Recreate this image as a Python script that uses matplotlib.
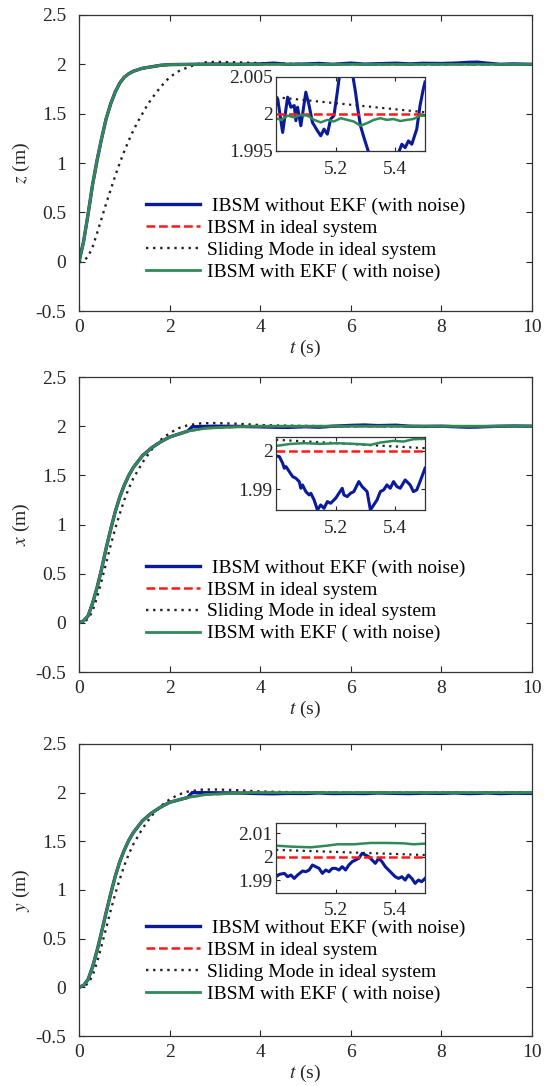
import matplotlib
matplotlib.use("Agg")
import matplotlib.pyplot as plt

plt.rcParams['font.family'] = ['Liberation Serif', 'DejaVu Serif']
plt.rcParams['mathtext.fontset'] = 'stix'

# ---------------- data ----------------
labels = [" IBSM without EKF (with noise)", "IBSM in ideal system",
          "Sliding Mode in ideal system", "IBSM with EKF ( with noise)"]
ylabels = ["$z$ (m)", "$x$ (m)", "$y$ (m)"]

# ideal IBSM responses
t_ib = [0, 0.1, 0.2, 0.3, 0.4, 0.5, 0.6, 0.7, 0.8, 0.9, 1.0, 1.1, 1.2, 1.4, 1.6, 1.8, 2.0, 2.5, 3.0, 4.0, 10.0]
z_ib = [0, 0.20, 0.48, 0.78, 1.03, 1.25, 1.45, 1.60, 1.72, 1.81, 1.87, 1.905, 1.93, 1.96, 1.975, 1.99, 1.997, 2.0, 2.0, 2.0, 2.0]
t_ibx = [0, 0.1, 0.2, 0.3, 0.4, 0.5, 0.6, 0.7, 0.8, 0.9, 1.0, 1.1, 1.2, 1.4, 1.6, 1.8, 2.0, 2.4, 2.8, 3.3, 3.8, 10.0]
x_ib = [0, 0.02, 0.07, 0.20, 0.36, 0.55, 0.76, 0.95, 1.13, 1.28, 1.40, 1.50, 1.58, 1.70, 1.78, 1.84, 1.89, 1.95, 1.98, 1.99, 2.0, 2.0]
y_ib = [0, 0.02, 0.08, 0.21, 0.38, 0.57, 0.77, 0.96, 1.14, 1.29, 1.41, 1.51, 1.59, 1.71, 1.79, 1.85, 1.90, 1.95, 1.98, 1.99, 2.0, 2.0]

# sliding mode responses
t_sm = [0, 0.1, 0.2, 0.3, 0.4, 0.5, 0.6, 0.7, 0.8, 0.9, 1.0, 1.1, 1.2, 1.3, 1.4, 1.5, 1.6, 1.8, 2.0, 2.2, 2.4, 2.6, 2.8, 3.0, 3.5, 4.0, 4.5, 5.0, 5.5, 6.0, 10.0]
z_sm = [0, 0.01, 0.05, 0.15, 0.29, 0.44, 0.59, 0.73, 0.87, 1.00, 1.12, 1.23, 1.33, 1.42, 1.50, 1.58, 1.65, 1.77, 1.87, 1.93, 1.97, 2.00, 2.02, 2.025, 2.02, 2.012, 2.006, 2.0023, 2.0003, 2.0, 2.0]
t_smx = [0, 0.1, 0.2, 0.3, 0.4, 0.5, 0.6, 0.7, 0.8, 0.9, 1.0, 1.1, 1.2, 1.4, 1.6, 1.8, 2.0, 2.2, 2.4, 2.7, 3.0, 3.5, 4.0, 4.5, 5.0, 5.5, 6.0, 10.0]
x_sm = [0, 0.01, 0.04, 0.12, 0.26, 0.43, 0.61, 0.79, 0.96, 1.11, 1.25, 1.37, 1.47, 1.63, 1.76, 1.86, 1.93, 1.98, 2.01, 2.03, 2.032, 2.025, 2.012, 2.006, 2.0029, 2.0007, 2.0, 2.0]
y_sm = [0, 0.01, 0.04, 0.12, 0.26, 0.43, 0.61, 0.79, 0.96, 1.11, 1.25, 1.37, 1.47, 1.63, 1.76, 1.86, 1.93, 1.98, 2.01, 2.03, 2.032, 2.025, 2.012, 2.006, 2.0029, 2.0007, 2.0, 2.0]

# small noise of the blue curve in the main panels (t >= 2.5)
t_nz = [2.5, 3.0, 3.5, 4.0, 4.3, 4.6, 5.0, 5.3, 5.6, 6.0, 6.3, 6.6, 7.0, 7.3, 7.6, 8.0, 8.3, 8.6, 8.8, 9.0, 9.3, 9.6, 10.0]
z_nz = [2.0, 2.003, 2.0, 2.004, 2.012, 2.0, 2.003, 2.009, 2.0, 2.012, 2.002, 2.006, 2.011, 2.004, 2.010, 2.008, 2.012, 2.02, 2.022, 2.012, 2.0, 2.004, 2.0]
x_nz = [1.995, 2.0, 1.998, 1.994, 1.99, 1.988, 1.995, 1.99, 2.0, 2.008, 2.012, 2.006, 2.01, 2.0, 1.998, 2.0, 1.995, 1.99, 1.992, 1.996, 2.0, 2.002, 2.0]
y_nz = [2.0, 1.998, 1.996, 1.99, 1.988, 1.992, 1.991, 1.996, 1.99, 1.992, 1.99, 1.996, 1.992, 1.99, 1.994, 1.992, 1.996, 1.99, 1.992, 1.996, 1.99, 1.994, 1.992]

# inset data, z
ti_zb = [5.0, 5.0056, 5.0222, 5.0389, 5.05, 5.0611, 5.0667, 5.0722, 5.0833, 5.1, 5.1111, 5.1222, 5.1389, 5.15, 5.1611, 5.1722, 5.1833, 5.1944, 5.2056, 5.2144, 5.2367, 5.2556, 5.2667, 5.2744, 5.2833, 5.2967, 5.3111, 5.35, 5.3833, 5.4111, 5.4222, 5.4333, 5.4444, 5.4556, 5.4722, 5.4833, 5.4944, 5.5]
zi_b = [2.00136, 2.00205, 1.9975, 2.00227, 2.00091, 2.00114, 1.99909, 2.00091, 1.99841, 2.00295, 2.00114, 1.99886, 1.99773, 1.99705, 1.99795, 1.99727, 1.99932, 1.99977, 2.00295, 2.00568, 2.0084, 2.00568, 2.00295, 2.00068, 1.99841, 1.99659, 1.99477, 1.9907, 1.9911, 1.99477, 1.99591, 1.99545, 1.99636, 1.99591, 1.99795, 2.00114, 2.00341, 2.00432]
ti_zg = [5.0, 5.017, 5.039, 5.061, 5.083, 5.106, 5.128, 5.15, 5.172, 5.194, 5.217, 5.239, 5.261, 5.283, 5.306, 5.328, 5.35, 5.372, 5.394, 5.417, 5.439, 5.461, 5.483, 5.5]
zi_g = [1.99943, 1.9992, 1.99977, 1.99955, 1.99986, 1.99977, 1.9992, 1.99886, 1.9992, 1.99898, 1.99943, 1.9992, 1.99898, 1.99841, 1.99877, 1.9992, 1.99943, 1.9992, 1.99932, 1.99905, 1.9992, 1.99932, 1.99977, 1.99977]
zi_sm = [2.00227, 2.00023]

# inset data, x
ti_xb = [5.0, 5.0111, 5.0222, 5.0278, 5.0333, 5.0444, 5.0556, 5.0667, 5.0778, 5.0833, 5.0889, 5.1, 5.1111, 5.1167, 5.1278, 5.1389, 5.15, 5.1611, 5.1722, 5.1833, 5.2, 5.2111, 5.2222, 5.2278, 5.2389, 5.25, 5.2611, 5.2778, 5.2889, 5.3056, 5.3167, 5.3278, 5.3389, 5.35, 5.3611, 5.3722, 5.3833, 5.3944, 5.4056, 5.4167, 5.4333, 5.4444, 5.45, 5.4611, 5.4722, 5.4833, 5.5]
xi_b = [1.9987, 1.99852, 1.99678, 1.99548, 1.99591, 1.99461, 1.99330, 1.99287, 1.99200, 1.99026, 1.99113, 1.98939, 1.98852, 1.98896, 1.98722, 1.98461, 1.98591, 1.98504, 1.98678, 1.98635, 1.98765, 1.98896, 1.99026, 1.98852, 1.98809, 1.98896, 1.98939, 1.992, 1.99070, 1.98939, 1.98461, 1.98591, 1.98722, 1.98939, 1.98983, 1.99113, 1.99026, 1.99200, 1.99070, 1.99026, 1.99243, 1.99157, 1.99113, 1.98939, 1.98983, 1.99200, 1.99548]
ti_xg = [5.0, 5.05, 5.094, 5.15, 5.206, 5.261, 5.317, 5.35, 5.394, 5.428, 5.461, 5.5]
xi_g = [2.00130, 2.00183, 2.00200, 2.00183, 2.00200, 2.00183, 2.00157, 2.00217, 2.00261, 2.00243, 2.00304, 2.00313]
xi_sm = [2.0029, 2.0007]

# inset data, y
ti_yb = [5.0, 5.0111, 5.0278, 5.0389, 5.05, 5.0611, 5.0722, 5.0889, 5.1, 5.1111, 5.1222, 5.1333, 5.1444, 5.1556, 5.1667, 5.1778, 5.1889, 5.2, 5.2111, 5.2222, 5.2333, 5.2444, 5.2556, 5.2667, 5.2778, 5.2889, 5.3, 5.3111, 5.3222, 5.3333, 5.3444, 5.3556, 5.3667, 5.3778, 5.3889, 5.4, 5.4111, 5.4222, 5.4333, 5.4444, 5.4556, 5.4667, 5.4778, 5.4889, 5.5]
yi_b = [1.99143, 1.99243, 1.99286, 1.99143, 1.99214, 1.99071, 1.99214, 1.99386, 1.99357, 1.99429, 1.99643, 1.99571, 1.995, 1.99286, 1.99429, 1.99357, 1.995, 1.995, 1.99429, 1.99571, 1.99429, 1.99643, 1.99786, 1.99857, 1.99929, 2.00143, 2.00071, 2.0, 1.99857, 1.99714, 1.99929, 1.99786, 1.99571, 1.99429, 1.99286, 1.99143, 1.99071, 1.99143, 1.99, 1.99214, 1.99071, 1.98857, 1.99, 1.98929, 1.99071]
ti_yg = [5.0, 5.05, 5.117, 5.172, 5.206, 5.261, 5.317, 5.372, 5.428, 5.461, 5.5]
yi_g = [2.0047, 2.00429, 2.004, 2.00471, 2.00529, 2.00529, 2.00586, 2.00586, 2.00571, 2.00529, 2.00557]
yi_sm = [2.0029, 2.0007]

# ---------------- styling ----------------
C_BLUE = '#0a1a9c'
C_RED = '#ff1a1a'
C_GREEN = '#2e8b57'
C_TXT = '#262626'

fig = plt.figure(figsize=(5.44, 10.86), dpi=100)

main_rects = [[0.1452, 0.7136, 0.8327, 0.2726],
              [0.1452, 0.3812, 0.8327, 0.2716],
              [0.1452, 0.0460, 0.8327, 0.2690]]
inset_rects = [[0.5074, 0.8610, 0.2739, 0.0681],
               [0.5074, 0.5304, 0.2739, 0.0675],
               [0.5074, 0.1780, 0.2739, 0.0642]]
legend_anchor_y = [0.383, 0.383, 0.400]
inset_ylims = [(1.995, 2.005), (1.9846, 2.0037), (1.9846, 2.0144)]
inset_yticks = [[1.995, 2.0, 2.005], [1.99, 2.0], [1.99, 2.0, 2.01]]
inset_yticklabels = [["1.995", "2", "2.005"], ["1.99", "2"], ["1.99", "2", "2.01"]]

ib_t = [t_ib, t_ibx, t_ibx]
ib_v = [z_ib, x_ib, y_ib]
sm_t = [t_sm, t_smx, t_smx]
sm_v = [z_sm, x_sm, y_sm]
nz_v = [z_nz, x_nz, y_nz]
in_b = [(ti_zb, zi_b), (ti_xb, xi_b), (ti_yb, yi_b)]
in_g = [(ti_zg, zi_g), (ti_xg, xi_g), (ti_yg, yi_g)]
in_sm = [zi_sm, xi_sm, yi_sm]

FS = 14
DOT = (0, (1, 2))
DASH = (0, (3.5, 1.5))


def style(ax, fs):
    ax.tick_params(direction='in', top=True, right=True, labelsize=fs,
                   colors=C_TXT, length=4, width=0.8)
    for s in ax.spines.values():
        s.set_color('#333333')
        s.set_linewidth(0.9)


for k in range(3):
    ax = fig.add_axes(main_rects[k])
    tt, vv = ib_t[k], ib_v[k]
    tb = [t for t in tt if t < t_nz[0]] + t_nz
    vb = [v for t, v in zip(tt, vv) if t < t_nz[0]] + nz_v[k]
    ax.plot(tb, vb, color=C_BLUE, lw=2.4, label=labels[0])
    ax.plot(tt, vv, color=C_RED, lw=1.8, ls=DASH, label=labels[1])
    ax.plot(sm_t[k], sm_v[k], color='#222222', lw=1.7, ls=DOT, label=labels[2])
    ax.plot(tt, vv, color=C_GREEN, lw=2.0, label=labels[3])
    ax.set_xlim(0, 10)
    ax.set_ylim(-0.5, 2.5)
    ax.set_xticks([0, 2, 4, 6, 8, 10])
    ax.set_yticks([-0.5, 0, 0.5, 1, 1.5, 2, 2.5])
    ax.set_yticklabels(["-0.5", "0", "0.5", "1", "1.5", "2", "2.5"])
    style(ax, FS)
    ax.tick_params(axis='y', pad=9)
    ax.tick_params(axis='x', pad=6)
    ax.set_xlabel("$t$ (s)", fontsize=FS, color=C_TXT, labelpad=1)
    ax.set_ylabel(ylabels[k], fontsize=FS, color=C_TXT, labelpad=3)
    ax.legend(loc='upper left', bbox_to_anchor=(0.148, legend_anchor_y[k]), frameon=False,
              fontsize=FS, handlelength=2.75, handletextpad=0.36,
              labelspacing=0.22, borderpad=0, borderaxespad=0)

    axi = fig.add_axes(inset_rects[k])
    tb_, vb_ = in_b[k]
    tg_, vg_ = in_g[k]
    axi.plot(tb_, vb_, color=C_BLUE, lw=2.2)
    axi.plot([5.0, 5.5], [2.0, 2.0], color=C_RED, lw=1.8, ls=DASH)
    axi.plot([5.0, 5.5], in_sm[k], color='#222222', lw=1.6, ls=DOT)
    axi.plot(tg_, vg_, color=C_GREEN, lw=1.8)
    axi.set_xlim(5.0, 5.5)
    axi.set_ylim(*inset_ylims[k])
    axi.set_xticks([5.2, 5.4])
    axi.set_xticklabels(["5.2", "5.4"])
    axi.set_yticks(inset_yticks[k])
    axi.set_yticklabels(inset_yticklabels[k])
    style(axi, FS)
    axi.tick_params(length=3)
    axi.tick_params(axis='x', pad=7)
    axi.tick_params(axis='y', pad=2.5)

fig.savefig("out.png", dpi=100)
